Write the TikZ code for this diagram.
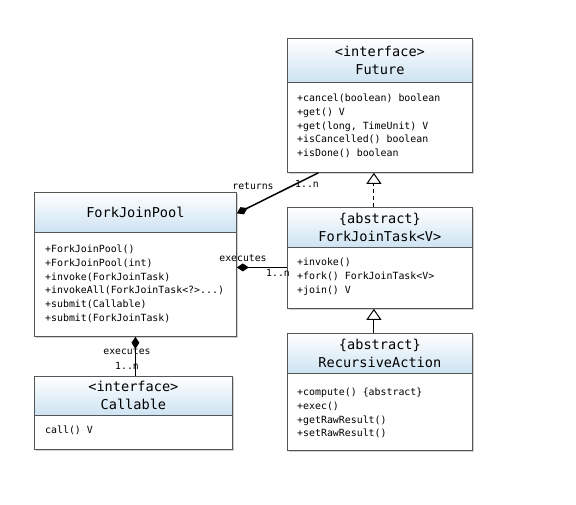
\documentclass[tikz,border=0pt]{standalone}
\usepackage{fontspec}
\setmonofont{DejaVu Sans Mono}
\usetikzlibrary{arrows.meta}
\definecolor{boxgray}{RGB}{85,85,85}
\definecolor{hdrblue}{RGB}{205,227,242}
\tikzset{
  classbox/.style={draw=boxgray, line width=0.8pt, fill=white, inner sep=0pt, anchor=north west,
    preaction={fill=black, opacity=0.18, transform canvas={xshift=1.2pt,yshift=-1.8pt}}},
  header/.style={draw=boxgray, line width=0.8pt, top color=white, bottom color=hdrblue, inner sep=0pt,
    anchor=north west, align=center, font=\ttfamily\fontsize{13.6}{18}\selectfont},
  body/.style={inner sep=0pt, anchor=north west, align=left, font=\ttfamily\fontsize{9.9}{13.7}\selectfont},
  lbl/.style={inner sep=0pt, font=\ttfamily\fontsize{9.8}{12}\selectfont},
  conn/.style={line width=1.5pt, black},
  gen/.style={line width=1pt, black, -{Triangle[open, length=11pt, width=15pt, line width=1pt]}},
  comp/.style={conn, {Diamond[length=12pt, width=8pt]}-},
}
\begin{document}
\begin{tikzpicture}[x=1pt,y=-1pt]
\useasboundingbox (0,0) rectangle (576,504);
% Future
\node[classbox, minimum width=185pt, minimum height=134pt] (fut) at (287,38) {};
\node[header, minimum width=185pt, minimum height=44pt] (futh) at (287,38) {<interface>\\Future};
\node[body] (futb) at (297,94) {+cancel(boolean) boolean\\+get() V\\+get(long, TimeUnit) V\\+isCancelled() boolean\\+isDone() boolean};
% ForkJoinPool
\node[classbox, minimum width=202pt, minimum height=144pt] (fjp) at (34,192) {};
\node[header, minimum width=202pt, minimum height=40pt] (fjph) at (34,192) {ForkJoinPool};
\node[body] (fjpb) at (45,245) {+ForkJoinPool()\\+ForkJoinPool(int)\\+invoke(ForkJoinTask)\\+invokeAll(ForkJoinTask<?>...)\\+submit(Callable)\\+submit(ForkJoinTask)};
% ForkJoinTask
\node[classbox, minimum width=185pt, minimum height=101pt] (fjt) at (287,207) {};
\node[header, minimum width=185pt, minimum height=40pt] (fjth) at (287,207) {\{abstract\}\\ForkJoinTask<V>};
\node[body] (fjtb) at (297,258) {+invoke()\\+fork() ForkJoinTask<V>\\+join() V};
% RecursiveAction
\node[classbox, minimum width=185pt, minimum height=117pt] (ra) at (287,333) {};
\node[header, minimum width=185pt, minimum height=40pt] (rah) at (287,333) {\{abstract\}\\RecursiveAction};
\node[body] (rab) at (297,388) {+compute() \{abstract\}\\+exec()\\+getRawResult()\\+setRawResult()};
% Callable
\node[classbox, minimum width=198pt, minimum height=73pt] (cal) at (34,376) {};
\node[header, minimum width=198pt, minimum height=39pt] (calh) at (34,376) {<interface>\\Callable};
\node[body] (calb) at (45,426) {call() V};
% connectors
\draw[gen, dash pattern=on 4pt off 3pt] ([xshift=-6pt]fjt.north) -- ([xshift=-6pt]fut.south);
\draw[gen] ([xshift=-6pt]ra.north) -- ([xshift=-6pt]fjt.south);
\draw[comp] ([yshift=51pt]fjp.east) -- ([xshift=-61.5pt]fut.south);
\coordinate (e1) at ([yshift=-9.5pt]fjt.west);
\draw[comp] (e1 -| fjp.east) -- (e1);
\draw[comp] (fjp.south) -- (fjp.south |- cal.north);
% labels
\node[lbl] (l1) at (253,186) {returns};
\node[lbl] (l2) at (307,184) {1..n};
\node[lbl] (l3) at (243,258) {executes};
\node[lbl] (l4) at (278,273) {1..n};
\node[lbl] (l5) at (127,351) {executes};
\node[lbl] (l6) at (127,366) {1..n};
\end{tikzpicture}
\end{document}
